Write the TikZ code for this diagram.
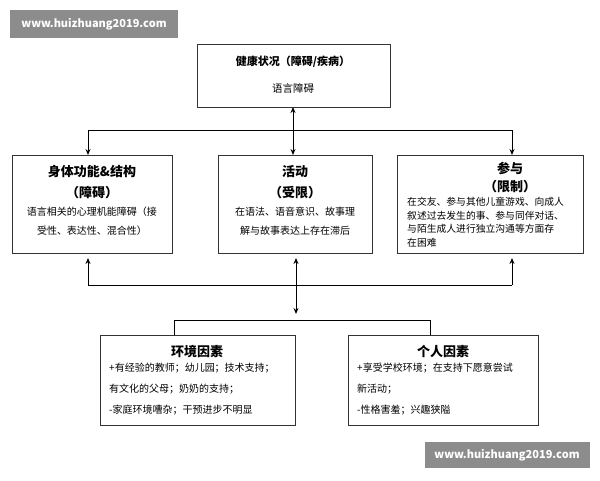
\documentclass[tikz,border=0pt]{standalone}
\usepackage{fontspec}
\setmainfont{Noto Sans CJK SC}
\usetikzlibrary{arrows.meta}
\begin{document}
\begin{tikzpicture}[x=1pt,y=-1pt,
 box/.style={draw=black!80,line width=0.9pt,fill=white},
 ttl/.style={font=\fontsize{13}{14}\selectfont\bfseries,anchor=center},
 arr/.style={line width=1pt,-{Stealth[length=6pt,width=5pt]}},
 wm/.style={fill=black!45,text=white,font=\fontsize{11}{12}\selectfont\bfseries}]
\useasboundingbox (0,0) rectangle (600,480);
\fill[white] (0,0) rectangle (600,480);
% watermarks
\node[wm,minimum width=168pt,minimum height=28pt] (w1) at (94,24) {www.huizhuang2019.com};
\node[wm,minimum width=165pt,minimum height=26pt] (w2) at (507,455) {www.huizhuang2019.com};
% boxes
\draw[box] (197,44) rectangle (390,107);
\node[font=\fontsize{11}{12}\selectfont\bfseries] (h1) at (293,62) {健康状况（障碍/疾病）};
\node[font=\fontsize{10.5}{12}\selectfont] (h2) at (293,88) {语言障碍};
\coordinate (topb) at (293,107);
\draw[box] (12,155) rectangle (172,253);
\node[ttl] (b1) at (92,172) {身体功能\&结构};
\node[ttl] (b1b) at (92,193) {（障碍）};
\node[font=\fontsize{10}{19}\selectfont,align=center,anchor=north] (b1t) at (92,203) {语言相关的心理机能障碍（接\\受性、表达性、混合性）};
\draw[box] (218,155) rectangle (372,253);
\node[ttl] (a1) at (295,172) {活动};
\node[ttl] (a1b) at (295,193) {（受限）};
\node[font=\fontsize{10}{19}\selectfont,align=center,anchor=north] (a1t) at (295,203) {在语法、语音意识、故事理\\解与故事表达上存在滞后};
\draw[box] (397,155) rectangle (583,253);
\node[ttl] (p1) at (510,168) {参与};
\node[ttl] (p1b) at (510,187) {（限制）};
\node[font=\fontsize{9.8}{13.5}\selectfont,align=left,anchor=north west,inner sep=0] (p1t) at (407,197) {在交友、参与其他儿童游戏、向成人\\叙述过去发生的事、参与同伴对话、\\与陌生成人进行独立沟通等方面存\\在困难};
\draw[box] (100,335) rectangle (295,425);
\node[ttl] (e1) at (197,352) {环境因素};
\node[font=\fontsize{10}{21}\selectfont,align=left,anchor=north west,inner sep=0] (e1t) at (109,363) {+有经验的教师；幼儿园；技术支持；\\有文化的父母；奶奶的支持；\\-家庭环境嘈杂；干预进步不明显};
\draw[box] (348,335) rectangle (538,425);
\node[ttl] (i1) at (443,352) {个人因素};
\node[font=\fontsize{10}{21}\selectfont,align=left,anchor=north west,inner sep=0] (i1t) at (357,363) {+享受学校环境；在支持下愿意尝试\\新活动；\\-性格害羞；兴趣狭隘};
% connectors
\coordinate (u1) at (88,130); \coordinate (u2) at (512,130);
\coordinate (ua) at (88,155); \coordinate (ub) at (512,155);
\coordinate (ab) at (293,155);
\draw[line width=1pt] (u1) -- (u2);
\draw[arr] (u1) -- (ua);
\draw[arr] (u2) -- (ub);
\draw[arr,{Stealth[length=6pt,width=5pt]}-{Stealth[length=6pt,width=5pt]}] (topb) -- (ab);
\coordinate (l1) at (88,285); \coordinate (l2) at (512,285);
\coordinate (la) at (88,258); \coordinate (lb) at (512,258);
\coordinate (lm) at (296,258); \coordinate (lm2) at (296,314);
\draw[line width=1pt] (l1) -- (l2);
\draw[arr] (l1) -- (la);
\draw[arr] (l2) -- (lb);
\draw[arr,{Stealth[length=6pt,width=5pt]}-{Stealth[length=6pt,width=5pt]}] (lm2) -- (lm);
\coordinate (c1) at (174,335); \coordinate (c2) at (430,335);
\draw[line width=1pt] (c1) -- (174,320) -- (430,320) -- (c2);
\end{tikzpicture}
\end{document}
